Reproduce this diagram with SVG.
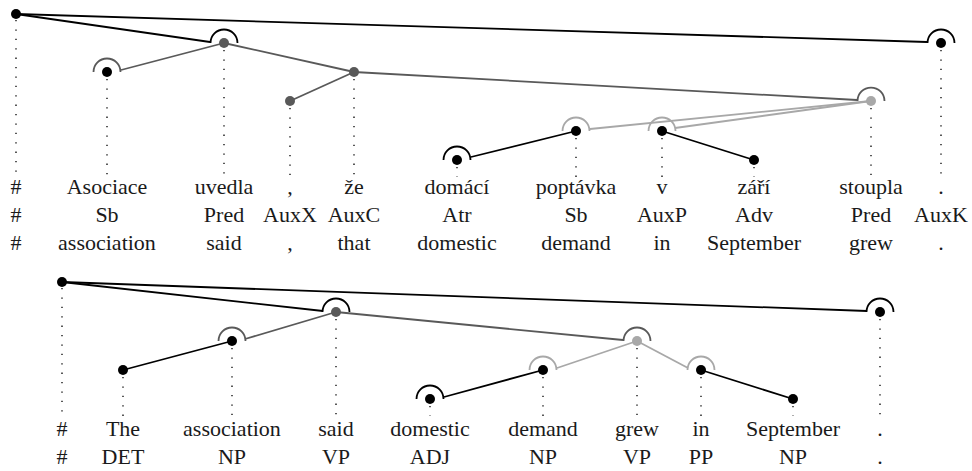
<svg xmlns="http://www.w3.org/2000/svg" width="972" height="471" viewBox="0 0 972 471">
  <style>
    .w { font-family: 'Liberation Serif', 'DejaVu Serif', 'Times New Roman', serif; font-size: 22px; fill: #1a1a1a; text-anchor: middle; }
    .e { fill: none; stroke-width: 1.8; }
    .k { stroke: #000; }
    .d { stroke: #595959; }
    .l { stroke: #a8a8a8; }
    .arc { fill: none; stroke-width: 1.8; }
    .dot { stroke: #000; stroke-width: 1.3; stroke-dasharray: 1.3 8.1; fill: none; }
    .nk { fill: #000; }
    .nd { fill: #595959; }
    .nl { fill: #a8a8a8; }
  </style>

  <!-- Czech sentence: dependency tree -->
  <g id="connectors-top">
    <line class="e k" x1="16" y1="14" x2="210" y2="42"/>
    <line class="e k" x1="16" y1="14" x2="927" y2="42"/>
    <line class="e d" x1="224" y1="43" x2="121" y2="70"/>
    <line class="e d" x1="224" y1="43" x2="354" y2="72"/>
    <line class="e d" x1="354" y1="72" x2="290" y2="101"/>
    <line class="e d" x1="354" y1="72" x2="857" y2="100"/>
    <line class="e l" x1="871" y1="101" x2="590" y2="129"/>
    <line class="e l" x1="871" y1="101" x2="675" y2="128"/>
    <line class="e k" x1="576" y1="131" x2="471" y2="157"/>
    <line class="e k" x1="662" y1="131" x2="754" y2="160"/>
  </g>

  <g id="t-root">
    <line class="dot" x1="16" y1="20" x2="16" y2="177"/>
    <circle class="nk" cx="16" cy="14" r="5"/>
    <text class="w" font-family="Liberation Serif, serif" x="16" y="194">#</text>
    <text class="w" font-family="Liberation Serif, serif" x="16" y="222">#</text>
    <text class="w" font-family="Liberation Serif, serif" x="16" y="250">#</text>
  </g>
  <g id="t-asociace">
    <line class="dot" x1="107" y1="79" x2="107" y2="177"/>
    <path class="arc d" d="M93.5 72 A13.5 13.5 0 0 1 120.5 72"/>
    <circle class="nk" cx="107" cy="72" r="5"/>
    <text class="w" x="107" y="194">Asociace</text><text class="w" x="107" y="222">Sb</text><text class="w" x="107" y="250">association</text>
  </g>
  <g id="t-uvedla">
    <line class="dot" x1="224" y1="50" x2="224" y2="177"/>
    <path class="arc k" d="M210.5 43 A13.5 13.5 0 0 1 237.5 43"/>
    <circle class="nd" cx="224" cy="43" r="5"/>
    <text class="w" x="224" y="194">uvedla</text><text class="w" x="224" y="222">Pred</text><text class="w" x="224" y="250">said</text>
  </g>
  <g id="t-comma">
    <line class="dot" x1="290" y1="108" x2="290" y2="177"/>
    <circle class="nd" cx="290" cy="101" r="5"/>
    <text class="w" x="290" y="194">,</text><text class="w" x="290" y="222">AuxX</text><text class="w" x="290" y="250">,</text>
  </g>
  <g id="t-ze">
    <line class="dot" x1="354" y1="79" x2="354" y2="177"/>
    <circle class="nd" cx="354" cy="72" r="5"/>
    <text class="w" x="354" y="194">že</text><text class="w" x="354" y="222">AuxC</text><text class="w" x="354" y="250">that</text>
  </g>
  <g id="t-domaci">
    <line class="dot" x1="457" y1="167" x2="457" y2="177"/>
    <path class="arc k" d="M443.5 160 A13.5 13.5 0 0 1 470.5 160"/>
    <circle class="nk" cx="457" cy="160" r="5"/>
    <text class="w" x="457" y="194">domácí</text><text class="w" x="457" y="222">Atr</text><text class="w" x="457" y="250">domestic</text>
  </g>
  <g id="t-poptavka">
    <line class="dot" x1="576" y1="138" x2="576" y2="177"/>
    <path class="arc l" d="M562.5 131 A13.5 13.5 0 0 1 589.5 131"/>
    <circle class="nk" cx="576" cy="131" r="5"/>
    <text class="w" x="576" y="194">poptávka</text><text class="w" x="576" y="222">Sb</text><text class="w" x="576" y="250">demand</text>
  </g>
  <g id="t-v">
    <line class="dot" x1="662" y1="138" x2="662" y2="177"/>
    <path class="arc l" d="M648.5 131 A13.5 13.5 0 0 1 675.5 131"/>
    <circle class="nk" cx="662" cy="131" r="5"/>
    <text class="w" x="662" y="194">v</text><text class="w" x="662" y="222">AuxP</text><text class="w" x="662" y="250">in</text>
  </g>
  <g id="t-zari">
    <line class="dot" x1="754" y1="167" x2="754" y2="177"/>
    <circle class="nk" cx="754" cy="160" r="5"/>
    <text class="w" x="754" y="194">září</text><text class="w" x="754" y="222">Adv</text><text class="w" x="754" y="250">September</text>
  </g>
  <g id="t-stoupla">
    <line class="dot" x1="871" y1="108" x2="871" y2="177"/>
    <path class="arc d" d="M857.5 101 A13.5 13.5 0 0 1 884.5 101"/>
    <circle class="nl" cx="871" cy="101" r="5"/>
    <text class="w" x="871" y="194">stoupla</text><text class="w" x="871" y="222">Pred</text><text class="w" x="871" y="250">grew</text>
  </g>
  <g id="t-period">
    <line class="dot" x1="941" y1="50" x2="941" y2="177"/>
    <path class="arc k" d="M927.5 43 A13.5 13.5 0 0 1 954.5 43"/>
    <circle class="nk" cx="941" cy="43" r="5"/>
    <text class="w" x="941" y="194">.</text><text class="w" x="941" y="222">AuxK</text><text class="w" x="941" y="250">.</text>
  </g>

  <!-- English sentence: phrase-labelled tree -->
  <g id="connectors-bottom">
    <line class="e k" x1="62" y1="282" x2="323" y2="311"/>
    <line class="e k" x1="62" y1="282" x2="867" y2="311"/>
    <line class="e d" x1="336" y1="312" x2="245" y2="339"/>
    <line class="e k" x1="232" y1="341" x2="123" y2="370"/>
    <line class="e d" x1="336" y1="312" x2="623" y2="340"/>
    <line class="e l" x1="637" y1="341" x2="557" y2="368"/>
    <line class="e l" x1="637" y1="341" x2="688" y2="368"/>
    <line class="e k" x1="543" y1="370" x2="444" y2="397"/>
    <line class="e k" x1="701" y1="370" x2="793" y2="399"/>
  </g>

  <g id="b-root">
    <line class="dot" x1="62" y1="288" x2="62" y2="416"/>
    <circle class="nk" cx="62" cy="282" r="5"/>
    <text class="w" x="62" y="436">#</text><text class="w" x="62" y="464">#</text>
  </g>
  <g id="b-the">
    <line class="dot" x1="123" y1="377" x2="123" y2="416"/>
    <circle class="nk" cx="123" cy="370" r="5"/>
    <text class="w" x="123" y="436">The</text><text class="w" x="123" y="464">DET</text>
  </g>
  <g id="b-association">
    <line class="dot" x1="232" y1="348" x2="232" y2="416"/>
    <path class="arc d" d="M218.5 341 A13.5 13.5 0 0 1 245.5 341"/>
    <circle class="nk" cx="232" cy="341" r="5"/>
    <text class="w" x="232" y="436">association</text><text class="w" x="232" y="464">NP</text>
  </g>
  <g id="b-said">
    <line class="dot" x1="336" y1="319" x2="336" y2="416"/>
    <path class="arc k" d="M322.5 312 A13.5 13.5 0 0 1 349.5 312"/>
    <circle class="nd" cx="336" cy="312" r="5"/>
    <text class="w" x="336" y="436">said</text><text class="w" x="336" y="464">VP</text>
  </g>
  <g id="b-domestic">
    <line class="dot" x1="430" y1="406" x2="430" y2="416"/>
    <path class="arc k" d="M416.5 399 A13.5 13.5 0 0 1 443.5 399"/>
    <circle class="nk" cx="430" cy="399" r="5"/>
    <text class="w" x="430" y="436">domestic</text><text class="w" x="430" y="464">ADJ</text>
  </g>
  <g id="b-demand">
    <line class="dot" x1="543" y1="377" x2="543" y2="416"/>
    <path class="arc l" d="M529.5 370 A13.5 13.5 0 0 1 556.5 370"/>
    <circle class="nk" cx="543" cy="370" r="5"/>
    <text class="w" x="543" y="436">demand</text><text class="w" x="543" y="464">NP</text>
  </g>
  <g id="b-grew">
    <line class="dot" x1="637" y1="348" x2="637" y2="416"/>
    <path class="arc d" d="M623.5 341 A13.5 13.5 0 0 1 650.5 341"/>
    <circle class="nl" cx="637" cy="341" r="5"/>
    <text class="w" x="637" y="436">grew</text><text class="w" x="637" y="464">VP</text>
  </g>
  <g id="b-in">
    <line class="dot" x1="701" y1="377" x2="701" y2="416"/>
    <path class="arc l" d="M687.5 370 A13.5 13.5 0 0 1 714.5 370"/>
    <circle class="nk" cx="701" cy="370" r="5"/>
    <text class="w" x="701" y="436">in</text><text class="w" x="701" y="464">PP</text>
  </g>
  <g id="b-september">
    <line class="dot" x1="793" y1="406" x2="793" y2="416"/>
    <circle class="nk" cx="793" cy="399" r="5"/>
    <text class="w" x="793" y="436">September</text><text class="w" x="793" y="464">NP</text>
  </g>
  <g id="b-period">
    <line class="dot" x1="880" y1="319" x2="880" y2="416"/>
    <path class="arc k" d="M866.5 312 A13.5 13.5 0 0 1 893.5 312"/>
    <circle class="nk" cx="880" cy="312" r="5"/>
    <text class="w" x="880" y="436">.</text><text class="w" x="880" y="464">.</text>
  </g>
</svg>
